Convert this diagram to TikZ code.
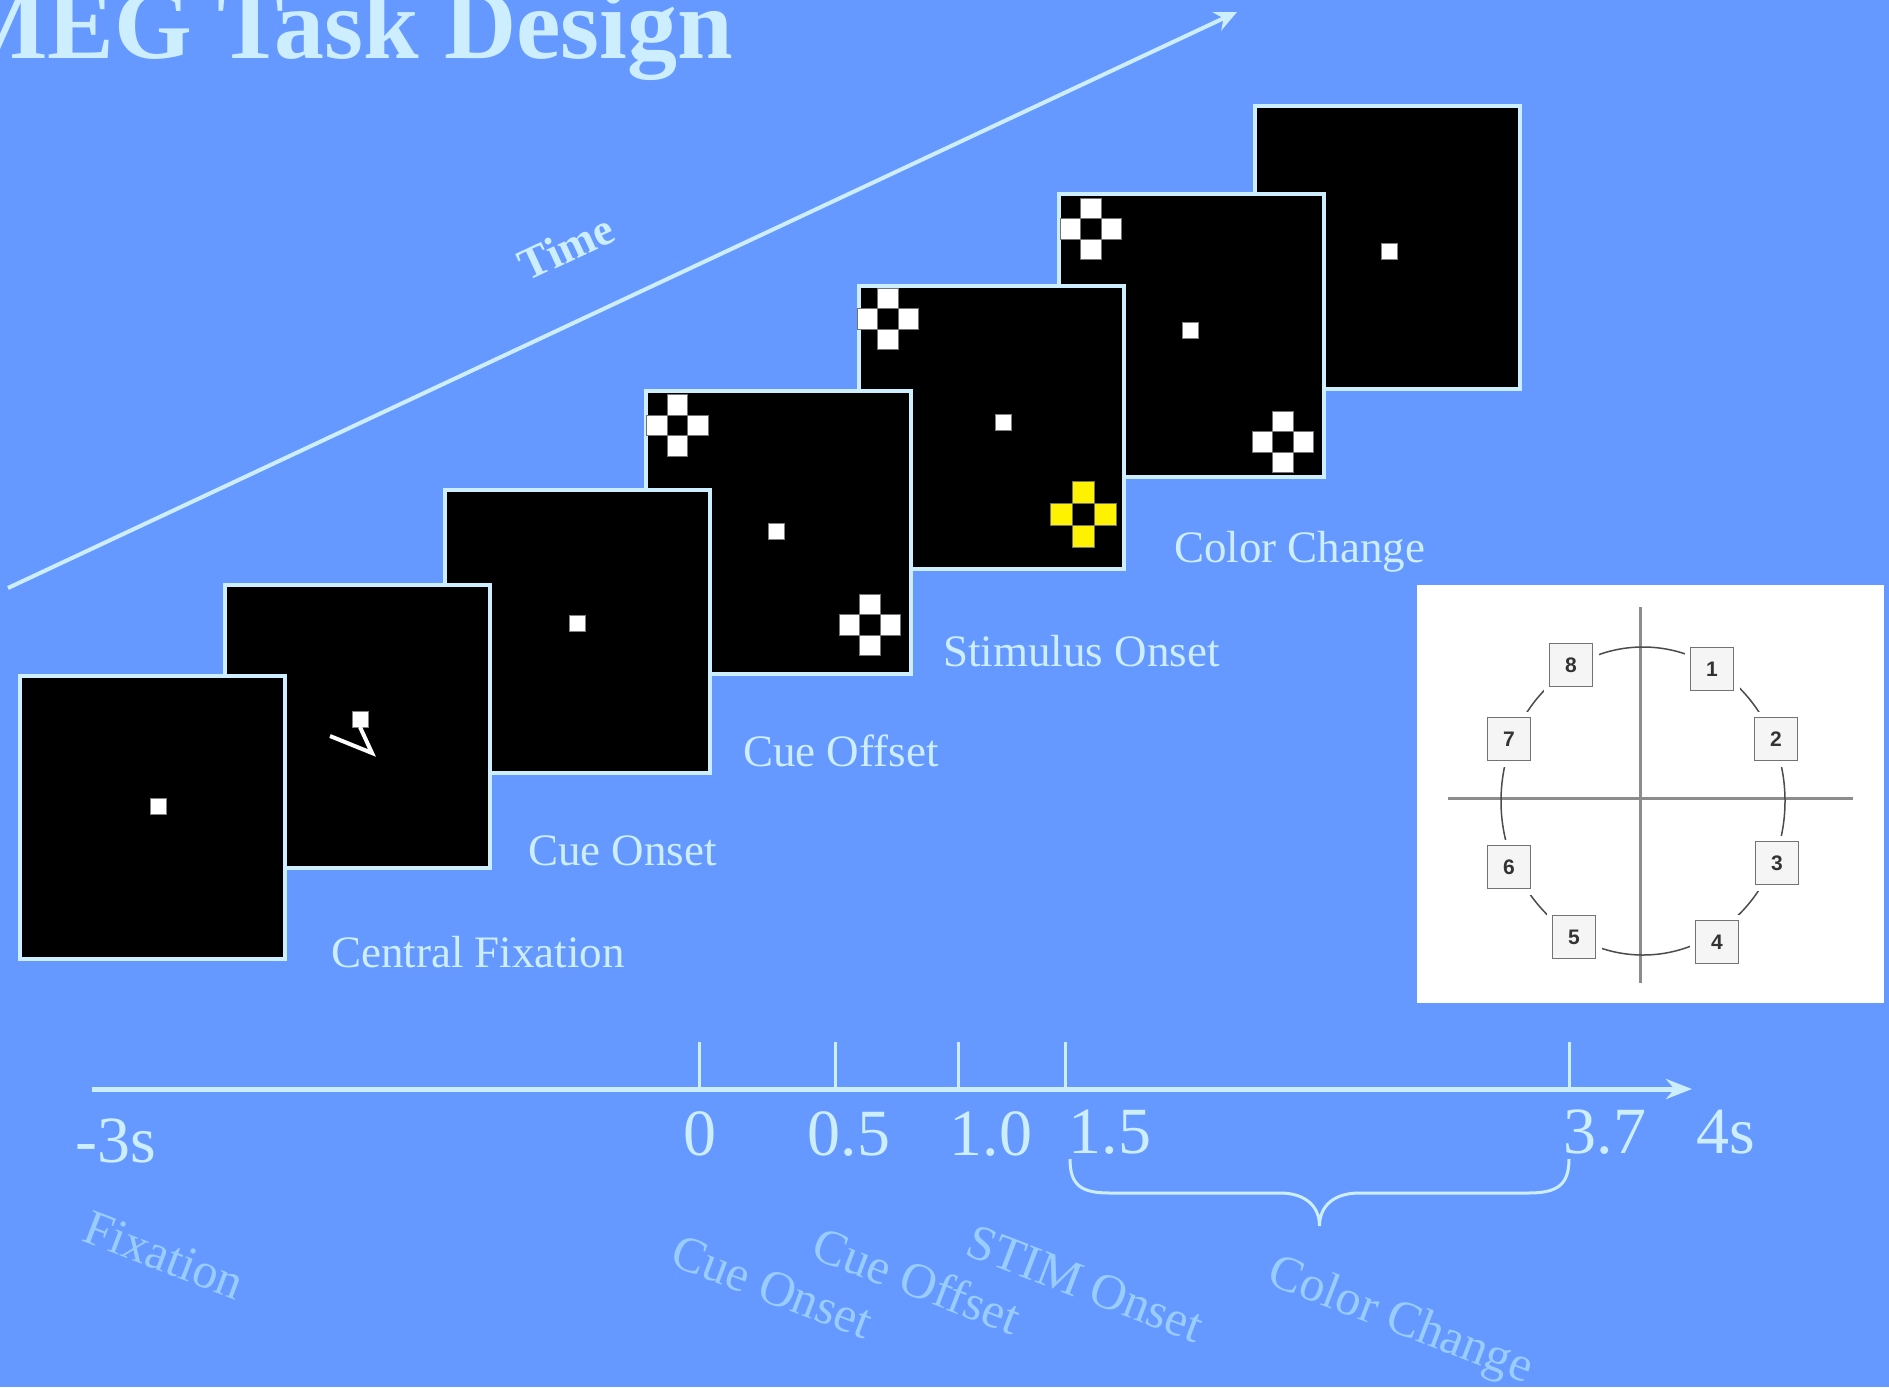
\documentclass[tikz,border=0pt]{standalone}
\usepackage{fontspec}
\setmainfont{Liberation Serif}
\newfontfamily\digitfont{Liberation Sans}
\usetikzlibrary{arrows.meta,calc,positioning}

\definecolor{bgblue}{HTML}{6699FF}
\definecolor{pale}{HTML}{CCEEFF}
\definecolor{dimblue}{HTML}{99CCFF}

\newcommand{\stimcross}[3]{%
  \begin{scope}[shift={(#1)}]
    \foreach \dx/\dy in {0/-1,-1/0,1/0,0/1}
      \filldraw[fill=#3, draw=black!55, line width=0.8]
        (\dx*#2-#2/2,\dy*#2-#2/2) rectangle ++(#2,#2);
  \end{scope}}

\begin{document}
\begin{tikzpicture}[
    x=1pt, y=-1pt,
    screen/.style={draw=pale, line width=4, fill=black, minimum width=265,
                   minimum height=283, anchor=north west, inner sep=0},
    fixdot/.style={fill=white, draw=black!50, line width=0.6, minimum size=16, inner sep=0},
    lbl/.style={text=pale, font=\fontsize{45}{50}\selectfont, inner sep=0, anchor=base west},
    phase/.style={text=dimblue, font=\fontsize{50}{52}\selectfont, inner sep=0, rotate=-21},
    ticklbl/.style={text=pale, font=\fontsize{66}{66}\selectfont, inner sep=0, anchor=base},
    numbox/.style={draw=black!55, fill=black!4, line width=1.6, minimum size=43, inner sep=0,
                   font=\digitfont\bfseries\fontsize{21}{21}\selectfont, text=black!80,
                   preaction={draw=white, line width=12}},
    flow/.style={draw=pale, line width=4, -{Stealth[length=22pt, width=20pt]}},
    axis/.style={draw=pale, line width=5, -{Stealth[length=26pt, width=20pt]}}
]
\useasboundingbox (0,0) rectangle (1889,1387);
\fill[bgblue] (0,0) rectangle (1889,1387);

\node[text=pale, font=\fontsize{100}{104}\selectfont\bfseries, inner sep=0, anchor=base west]
  (title) at (-47,58) {MEG Task Design};

\coordinate (tstart) at (8,588);
\coordinate (tend) at (1237,12);
\draw[flow] (tstart) -- (tend);
\node[text=pale, font=\fontsize{45}{45}\selectfont\bfseries, inner sep=0, rotate=25]
  (timelbl) at (566,247) {Time};

\node[screen] (s7) at (1253,104) {};
\node[fixdot] (d7) at (1389,251) {};

\node[screen] (s6) at (1057,192) {};
\stimcross{1091,229}{20.5}{white}
\node[fixdot] (d6) at (1190,330) {};
\stimcross{1283,442}{20.5}{white}

\node[screen] (s5) at (857,284) {};
\stimcross{888,319}{20.5}{white}
\node[fixdot] (d5) at (1003,422) {};
\stimcross{1083,514}{22}{yellow}

\node[screen] (s4) at (644,389) {};
\stimcross{677.5,425.5}{20.5}{white}
\node[fixdot] (d4) at (776,531) {};
\stimcross{870,625}{20.5}{white}

\node[screen] (s3) at (443,488) {};
\node[fixdot] (d3) at (577,623) {};

\node[screen] (s2) at (223,583) {};
\node[fixdot] (d2) at (360,719) {};
\draw[white, line width=4] (360,727) -- (372,753) -- (330,736);

\node[screen] (s1) at (18,674) {};
\node[fixdot] (d1) at (158,806) {};

\node[lbl] (l1) at ($(s1.south east)+(44,6)$) {Central Fixation};
\node[lbl] (l2) at ($(s2.south east)+(36,-5)$) {Cue Onset};
\node[lbl] (l3) at ($(s3.south east)+(31,-9)$) {Cue Offset};
\node[lbl] (l4) at ($(s4.south east)+(30,-10)$) {Stimulus Onset};
\node[lbl] (l5) at ($(s5.south east)+(48,-9)$) {Color Change};

\node[fill=white, minimum width=467, minimum height=418, inner sep=0, anchor=north west]
  (inset) at (1417,585) {};
\draw[black!45, line width=3] (1640,607) -- (1640,983);
\draw[black!45, line width=3] (1448,798) -- (1853,798);
\draw[black!70, line width=1.5] (1643,801) ellipse [x radius=142, y radius=154];
\foreach \n/\x/\y in {1/1712/669, 2/1776/739, 3/1777/863, 4/1717/942,
                      5/1574/937, 6/1509/867, 7/1509/739, 8/1571/665}
  \node[numbox] (n\n) at (\x,\y) {\n};

\coordinate (ax0) at (92,1089);
\coordinate (ax1) at (1692,1089);
\draw[axis] (ax0) -- (ax1);
\foreach \t/\x in {a/699, b/835, c/958, d/1065, e/1569} {
  \coordinate (tk\t) at (\x,1089);
  \draw[pale, line width=3] (tk\t) -- ++(0,-47);
}

\node[ticklbl] (m3) at (116,1162) {-3s};
\node[ticklbl] (z0) at (700,1155) {0};
\node[ticklbl] (z05) at (849,1155) {0.5};
\node[ticklbl] (z10) at (991,1155) {1.0};
\node[ticklbl] (z15) at (1110,1153) {1.5};
\node[ticklbl] (z37) at (1605,1153) {3.7};
\node[ticklbl] (z4) at (1726,1153) {4s};

\coordinate (b1) at (1070,1159);
\coordinate (b2) at (1569,1159);
\draw[pale, line width=3] (b1) .. controls +(0,27) and +(-28,0) .. ++(40,34) -- ++(170,0)
  .. controls +(25,0) and +(0,-20) .. ++(39.5,33)
  .. controls +(0,-20) and +(-25,0) .. ++(39.5,-33) -- ++(169,0)
  .. controls +(28,0) and +(0,27) .. (b2);

\node[phase] (p1) at (164,1255) {Fixation};
\node[phase] (p2) at (772,1287) {Cue Onset};
\node[phase] (p3) at (917,1280) {Cue Offset};
\node[phase] (p4) at (1085,1284) {STIM Onset};
\node[phase] (p5) at (1400,1322) {Color Change};
\end{tikzpicture}
\end{document}
